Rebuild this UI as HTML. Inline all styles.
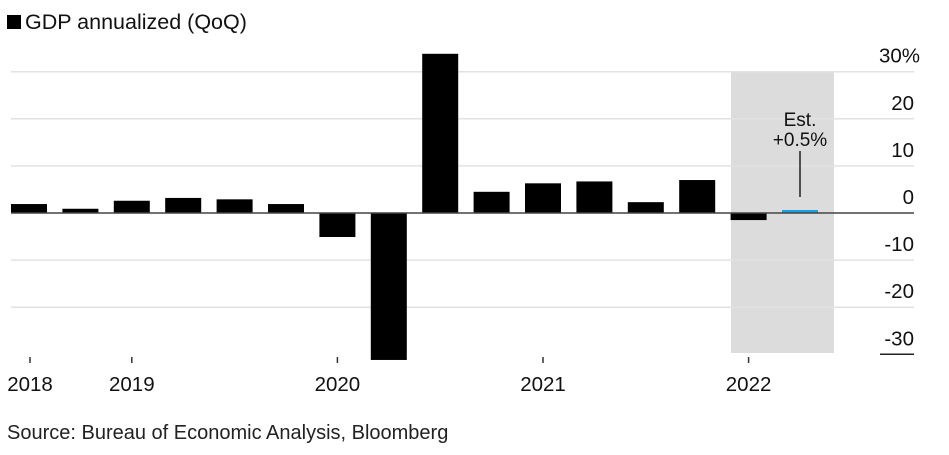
<!DOCTYPE html>
<html><head><meta charset="utf-8"><style>
body{margin:0;background:#fff;font-family:"Liberation Sans",sans-serif;}
svg text{font-family:"Liberation Sans",sans-serif;}
</style></head><body>
<svg width="949" height="450">
</svg>
<script>
const values=[1.9,0.9,2.6,3.2,2.9,1.9,-5.1,-31.2,33.8,4.5,6.3,6.7,2.3,7.0,-1.5,0.5];
const yTicks=[30,20,10,0,-10,-20,-30];
const years=["2018","2019","2020","2021","2022"];
const yearIdx=[0,2,6,10,14];
const NS="http://www.w3.org/2000/svg";
const svg=document.querySelector('svg');
const y=v=>213-v*4.71;
const x=i=>11+i*51.4;
const bw=36;
function mk(t,a,p){const e=document.createElementNS(NS,t);for(const k in a)e.setAttribute(k,a[k]);(p||svg).appendChild(e);return e;}
let e;
e=mk('rect',{x:731,y:71,width:103,height:282,fill:'#dcdcdc'});


yTicks.forEach(t=>{
 if(t!==0&&t!==-30){e=mk('line',{x1:11,x2:914,y1:y(t),y2:y(t),stroke:'#e2e2e2','stroke-width':1.5});
 
 }
 e=mk('text',{x:t===30?879:914,y:y(t)-9,'text-anchor':t===30?'start':'end','font-size':20.5,fill:'#111'});
 e.textContent=t===30?'30%':String(t);
 
 
});
e=mk('line',{x1:880,x2:914,y1:y(-30),y2:y(-30),stroke:'#222','stroke-width':1.5});


values.forEach((v,i)=>{
 const last=i===values.length-1;
 const top=Math.min(y(v),y(0)),h=Math.max(Math.abs(y(v)-y(0)),last?3:0);
 e=mk('rect',{x:x(i),y:last?y(0)-h:top,width:bw,height:h,fill:last?'#1a9fe0':'#000'});
 
 
});
e=mk('line',{x1:11,x2:914,y1:y(0),y2:y(0),stroke:'#444','stroke-width':1.5});


years.forEach((yr,k)=>{
 const cx=x(yearIdx[k])+bw/2+ (k===0?1:0);
 e=mk('line',{x1:cx,x2:cx,y1:357,y2:363,stroke:'#333','stroke-width':1.5});
 
 
 e=mk('text',{x:cx,y:391,'text-anchor':'middle','font-size':20.5,fill:'#111'});
 e.textContent=yr;
 
 
});
const ax=x(15)+bw/2;
e=mk('line',{x1:ax,x2:ax,y1:151,y2:197,stroke:'#222','stroke-width':1.5});


e=mk('text',{x:ax,y:126,'text-anchor':'middle','font-size':19,fill:'#111'});e.textContent='Est.';


e=mk('text',{x:ax,y:146,'text-anchor':'middle','font-size':19,fill:'#111'});e.textContent='+0.5%';


e=mk('rect',{x:7,y:15,width:14,height:14,fill:'#000'});


e=mk('text',{x:25,y:29,'font-size':21.5,fill:'#111'});e.textContent='GDP annualized (QoQ)';


e=mk('text',{x:7,y:439,'font-size':20,fill:'#222'});e.textContent='Source: Bureau of Economic Analysis, Bloomberg';


</script>
</body></html>
